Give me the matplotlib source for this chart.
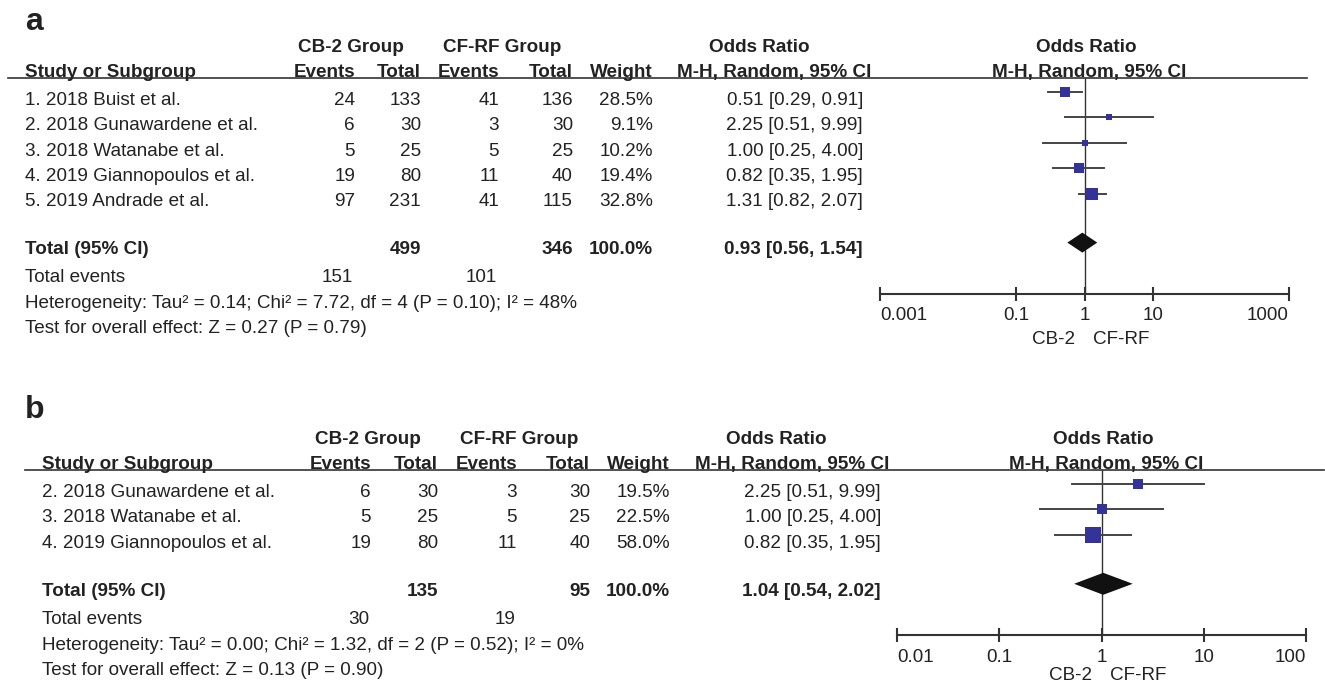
import numpy as np
import matplotlib
matplotlib.use('Agg')
import matplotlib.pyplot as plt

plt.rcParams['font.family'] = ['Liberation Sans', 'DejaVu Sans']

# panel a data
a_studies = ['1. 2018 Buist et al.', '2. 2018 Gunawardene et al.', '3. 2018 Watanabe et al.',
             '4. 2019 Giannopoulos et al.', '5. 2019 Andrade et al.']
a_cb_events = [24, 6, 5, 19, 97]
a_cb_total = [133, 30, 25, 80, 231]
a_cf_events = [41, 3, 5, 11, 41]
a_cf_total = [136, 30, 25, 40, 115]
a_weight = [28.5, 9.1, 10.2, 19.4, 32.8]
a_or = [0.51, 2.25, 1.00, 0.82, 1.31]
a_lo = [0.29, 0.51, 0.25, 0.35, 0.82]
a_hi = [0.91, 9.99, 4.00, 1.95, 2.07]
a_total = [0.93, 0.56, 1.54]
a_sums = [499, 346, 151, 101]
a_het = 'Heterogeneity: Tau² = 0.14; Chi² = 7.72, df = 4 (P = 0.10); I² = 48%'
a_test = 'Test for overall effect: Z = 0.27 (P = 0.79)'
a_ticks = [0.001, 0.1, 1, 10, 1000]
a_ticklabels = ['0.001', '0.1', '1', '10', '1000']

# panel b data
b_studies = ['2. 2018 Gunawardene et al.', '3. 2018 Watanabe et al.', '4. 2019 Giannopoulos et al.']
b_cb_events = [6, 5, 19]
b_cb_total = [30, 25, 80]
b_cf_events = [3, 5, 11]
b_cf_total = [30, 25, 40]
b_weight = [19.5, 22.5, 58.0]
b_or = [2.25, 1.00, 0.82]
b_lo = [0.51, 0.25, 0.35]
b_hi = [9.99, 4.00, 1.95]
b_total = [1.04, 0.54, 2.02]
b_sums = [135, 95, 30, 19]
b_het = 'Heterogeneity: Tau² = 0.00; Chi² = 1.32, df = 2 (P = 0.52); I² = 0%'
b_test = 'Test for overall effect: Z = 0.13 (P = 0.90)'
b_ticks = [0.01, 0.1, 1, 10, 100]
b_ticklabels = ['0.01', '0.1', '1', '10', '100']

W, H = 1325, 684
TXT = '#222222'
LINE = '#333333'
BOX = '#333399'
FS = 13.6

fig = plt.figure(figsize=(W / 100, H / 100), dpi=100)
bg = fig.add_axes([0, 0, 1, 1])
bg.set_xlim(0, W)
bg.set_ylim(H, 0)
bg.axis('off')


def put(x, y, s, ha='left', bold=False, size=FS):
    # y is the visual middle of the cap height
    bg.text(x, y + 6.8, s, ha=ha, va='baseline', fontsize=size, color=TXT,
            fontweight='bold' if bold else 'normal')


def panel(label, label_y, top, x0, cols, studies, cbe, cbt, cfe, cft, wt, orv, lo, hi, tot,
          sums, het, test, ticks, ticklabels, ax_x, line_x, box_k, dia_h, foot_dy):
    # cols: right edges for events/total/events/total/weight/OR, centres for OR headers
    ev1, to1, ev2, to2, wcol, orcol, orhead, grp1, grp2, fhead = cols
    bg.text(25, label_y, label, ha='left', va='baseline', fontsize=23,
            fontweight='bold', color=TXT)
    hy1, hy2 = top, top + 25
    put(grp1, hy1, 'CB-2 Group', ha='center', bold=True)
    put(grp2, hy1, 'CF-RF Group', ha='center', bold=True)
    put(orhead[0], hy1, 'Odds Ratio', ha='center', bold=True)
    put(fhead[0], hy1, 'Odds Ratio', ha='center', bold=True)
    put(x0, hy2, 'Study or Subgroup', bold=True)
    put(ev1, hy2, 'Events', ha='right', bold=True)
    put(to1, hy2, 'Total', ha='right', bold=True)
    put(ev2, hy2, 'Events', ha='right', bold=True)
    put(to2, hy2, 'Total', ha='right', bold=True)
    put(wcol, hy2, 'Weight', ha='right', bold=True)
    put(orhead[1], hy2, 'M-H, Random, 95% CI', ha='center', bold=True)
    put(fhead[1], hy2, 'M-H, Random, 95% CI', ha='center', bold=True)
    hline = top + 33
    bg.plot(line_x, [hline, hline], color=LINE, lw=1.2)

    rows = [top + 53 + 25.4 * i for i in range(len(studies))]
    for i, y in enumerate(rows):
        put(x0, y, studies[i])
        put(ev1, y, str(cbe[i]), ha='right')
        put(to1, y, str(cbt[i]), ha='right')
        put(ev2, y, str(cfe[i]), ha='right')
        put(to2, y, str(cft[i]), ha='right')
        put(wcol, y, f'{wt[i]:.1f}%', ha='right')
        put(orcol, y, f'{orv[i]:.2f} [{lo[i]:.2f}, {hi[i]:.2f}]', ha='right')

    ty = rows[-1] + 48
    put(x0, ty, 'Total (95% CI)', bold=True)
    put(to1, ty, str(sums[0]), ha='right', bold=True)
    put(to2, ty, str(sums[1]), ha='right', bold=True)
    put(wcol, ty, '100.0%', ha='right', bold=True)
    put(orcol, ty, f'{tot[0]:.2f} [{tot[1]:.2f}, {tot[2]:.2f}]', ha='right', bold=True)
    ey = ty + 28
    put(x0, ey, 'Total events')
    put(ev1 - 2, ey, str(sums[2]), ha='right')
    put(ev2 - 2, ey, str(sums[3]), ha='right')
    put(x0, ey + 26, het)
    put(x0, ey + 51, test)

    # forest plot, y in the same pixel units as the page
    axis_y = ey + 18
    ax = fig.add_axes([ax_x[0] / W, 1 - axis_y / H, (ax_x[1] - ax_x[0]) / W, (axis_y - hline) / H])
    ax.set_xscale('log')
    ax.set_xlim(ticks[0], ticks[-1])
    ax.set_ylim(axis_y, hline)
    ax.patch.set_alpha(0)
    for s in ['top', 'left', 'right']:
        ax.spines[s].set_visible(False)
    ax.spines['bottom'].set_linewidth(1.5)
    ax.spines['bottom'].set_color(LINE)
    ax.axvline(1, color=LINE, lw=1.0, zorder=1)
    ax.set_yticks([])
    ax.set_xticks(ticks)
    ax.set_xticklabels(ticklabels)
    ax.minorticks_off()
    ax.tick_params(axis='x', direction='inout', length=10, width=1.5, color=LINE,
                   labelsize=FS, labelcolor=TXT, pad=5)
    labs = ax.get_xticklabels()
    labs[0].set_horizontalalignment('left')
    labs[-1].set_horizontalalignment('right')

    for i, y in enumerate(rows):
        fy = y - 6
        ax.plot([lo[i], hi[i]], [fy, fy], color='#444444', lw=1.4, zorder=2)
        ax.plot(orv[i], fy, marker='s', ms=box_k * np.sqrt(wt[i]) * 0.72,
                color=BOX, mec=BOX, mew=0, zorder=3)
    dy = ty - 5
    ax.fill([tot[1], tot[0], tot[2], tot[0]], [dy, dy - dia_h / 2, dy, dy + dia_h / 2],
            color='#111111', zorder=3, lw=0)

    ly = axis_y + foot_dy
    put(ax_x[2] - 9, ly, 'CB-2', ha='right')
    put(ax_x[2] + 9, ly, 'CF-RF', ha='left')


panel('a', 30, 45, 25, [355, 421, 499, 573, 653, 863, (759, 774), 351, 502, (1086, 1089)],
      a_studies, a_cb_events, a_cb_total, a_cf_events, a_cf_total, a_weight,
      a_or, a_lo, a_hi, a_total, a_sums, a_het, a_test, a_ticks, a_ticklabels,
      (880, 1289, 1084), [8, 1307], 2.05, 20, 44)

panel('b', 418, 437, 42, [371, 438, 517, 590, 670, 881, (776, 792), 368, 519, (1103, 1106)],
      b_studies, b_cb_events, b_cb_total, b_cf_events, b_cf_total, b_weight,
      b_or, b_lo, b_hi, b_total, b_sums, b_het, b_test, b_ticks, b_ticklabels,
      (897, 1306, 1101), [25, 1324], 2.1, 22, 38)

fig.savefig('out.png', dpi=100)
